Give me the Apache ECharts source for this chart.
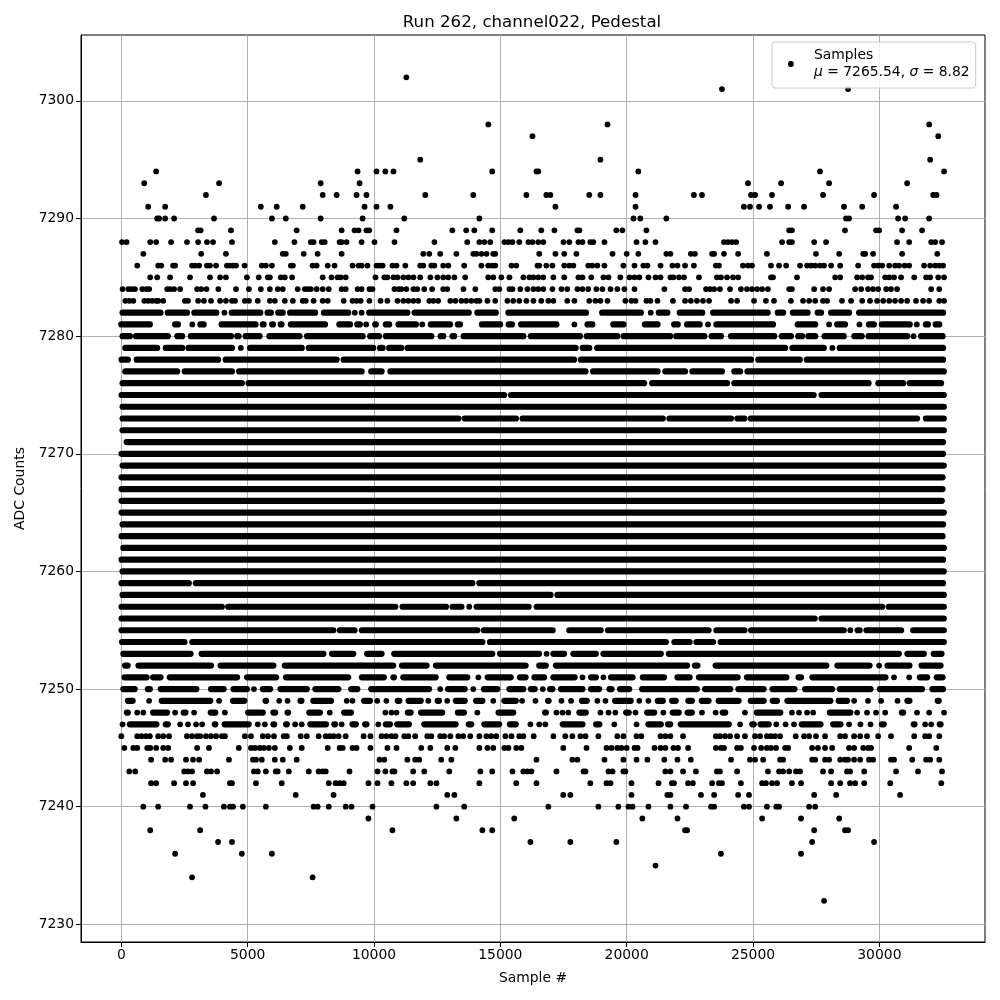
<!DOCTYPE html>
<html>
<head>
<meta charset="utf-8">
<title>Run 262, channel022, Pedestal</title>
<script src="https://cdn.jsdelivr.net/npm/echarts@6/dist/echarts.min.js"></script>
<style>
  html, body { margin: 0; padding: 0; background: #fff; }
  #chart { width: 1000px; height: 1000px; }
</style>
</head>
<body>
<div id="chart"></div>
<script>
const xTicks = [0, 5000, 10000, 15000, 20000, 25000, 30000]
const yTicks = [7230, 7240, 7250, 7260, 7270, 7280, 7290, 7300]

// single samples, one list per ADC count
const adc7302 = [11280]
const adc7301 = [23770, 28760]
const adc7298 = [14525, 19240, 31970]
const adc7297 = [16270, 32330]
const adc7295 = [11830, 18960, 32010]
const adc7294 = [1380, 9350, 10100, 10450, 10770, 14680, 16430, 16500, 20460, 27650, 32560]
const adc7293 = [907, 3870, 7890, 9430, 24800, 26110, 28010, 31100]
const adc7292 = [3350, 7970, 8520, 9310, 9700, 12030, 13930, 16030, 16820, 16980, 18520, 18960, 20350, 22660, 22980, 24920, 25080, 25750, 27770, 29790, 32130, 32260]
const adc7291 = [1065, 1735, 5520, 6150, 7180, 9625, 10100, 10650, 17180, 20350, 24640, 24880, 25240, 25670, 26390, 27020, 28600, 29320, 30660]
const adc7290 = [1420, 1500, 1735, 2090, 3670, 5960, 6510, 7890, 9550, 11200, 14170, 20270, 20540, 21570, 28680, 28800, 30740, 31020, 31970]
const adc7289 = [3040, 3140, 4340, 6940, 8720, 9230, 9390, 9700, 9810, 10890, 13100, 13650, 13970, 14680, 15790, 16620, 17140, 18050, 18130, 19590, 19830, 20780, 26430, 26540, 28640, 29870, 29990, 30900, 31690]
const adc7288 = [30, 210, 1145, 1380, 1970, 2600, 3040, 3390, 3630, 4380, 6075, 6850, 7500, 7610, 7930, 8050, 8640, 8720, 8915, 9510, 10020, 10810, 12390, 13690, 14170, 14370, 14600, 15160, 15320, 15480, 15750, 16110, 16270, 16500, 16700, 17500, 17730, 18090, 18250, 18560, 18680, 19120, 20390, 20740, 21140, 23850, 24010, 24170, 24330, 26150, 26430, 26540, 27420, 27890, 30700, 31180, 32050, 32210, 32480]
const adc7287 = [870, 3160, 4140, 6390, 6510, 7220, 7770, 8720, 11950, 12190, 12620, 13260, 13930, 14050, 14250, 14450, 14720, 14800, 16540, 17180, 17530, 18010, 19440, 20000, 20460, 21570, 21730, 22540, 22700, 23380, 23460, 23850, 24410, 25550, 27490, 28410, 29360, 29440, 29750, 30900, 32290]
const adc7286 = [630, 1460, 1580, 2050, 2130, 2800, 2920, 3080, 3390, 3510, 3750, 4180, 4300, 4420, 4540, 4880, 5560, 5720, 5960, 6710, 6790, 7570, 7730, 8170, 8440, 9150, 9390, 9510, 9740, 10100, 10220, 10340, 10730, 10890, 11240, 11830, 11950, 12270, 12390, 12740, 12940, 13570, 14250, 14520, 14680, 14800, 15440, 15630, 16470, 16540, 16820, 17060, 17530, 17730, 17890, 18480, 18640, 18840, 19120, 19870, 20310, 20660, 20820, 21340, 21810, 22010, 22310, 22660, 23530, 23650, 24600, 24800, 24960, 25710, 26030, 26310, 26860, 27140, 27300, 27460, 27650, 27810, 28090, 28450, 29160, 29790, 29950, 30110, 30390, 30620, 30780, 31000, 31180, 31770, 32010, 32210, 32370, 32520]
const adc7285 = [1145, 1420, 1930, 2720, 3510, 3910, 4140, 4970, 5440, 5800, 5880, 6310, 6470, 6760, 7970, 8320, 8560, 8680, 8880, 10060, 10410, 10530, 10770, 10930, 11160, 11360, 11560, 11830, 12230, 12510, 12740, 12940, 13180, 13610, 14520, 14720, 15040, 15360, 15910, 16150, 16310, 16500, 16700, 17100, 17530, 18090, 18250, 18600, 19080, 19280, 19750, 20110, 20310, 20500, 20860, 21140, 21340, 21730, 21850, 22070, 22270, 22860, 23570, 23730, 23970, 24210, 24410, 25710, 25790, 26740, 28250, 28450, 29120, 29320, 29550, 29670, 30230, 30390, 30580, 30860, 31380, 31850, 32010, 32330, 32560]
const adc7284 = [50, 280, 410, 540, 830, 990, 1105, 1815, 1930, 2090, 2330, 3000, 3160, 3370, 3840, 4540, 5050, 5520, 5880, 6190, 6390, 6980, 7260, 7380, 7500, 7730, 7970, 8210, 8720, 8880, 9350, 9510, 9820, 9940, 10810, 10970, 11080, 11280, 11560, 11710, 11990, 12300, 12740, 12900, 13540, 14010, 14800, 14960, 15360, 15480, 15790, 16070, 16310, 16500, 16700, 17060, 17420, 17650, 18050, 18250, 18480, 18800, 19040, 19360, 19630, 19910, 20310, 21490, 22310, 22470, 23140, 23300, 23460, 23690, 24090, 24520, 24760, 24960, 25160, 25360, 25590, 26430, 26540, 27420, 27770, 28010, 29040, 29280, 29550, 29750, 29950, 30270, 30460, 30700, 32050, 32370]
const adc7283 = [160, 315, 475, 910, 1065, 1220, 1380, 1460, 1660, 2520, 2640, 3040, 3270, 3550, 3910, 4140, 4380, 4500, 4890, 5050, 5400, 5880, 6075, 6470, 6790, 7180, 7300, 7610, 7970, 8170, 8800, 9150, 9310, 9470, 9820, 10260, 10530, 10930, 11160, 11360, 11560, 11750, 12190, 12350, 12540, 13020, 13220, 13460, 13650, 13850, 14050, 14170, 14490, 14800, 15280, 15510, 15750, 16030, 16310, 16620, 16900, 17100, 17650, 17930, 18520, 18760, 18960, 19240, 19950, 20190, 20350, 20780, 20940, 21220, 21830, 22310, 22540, 22780, 23020, 23260, 24130, 24370, 25040, 25510, 25830, 26500, 26980, 27220, 27460, 27770, 27930, 28520, 28880, 29320, 29630, 29910, 30150, 30390, 30620, 30860, 31100, 31450, 31730, 31970, 32370, 32560]

const adc7246 = [0, 630, 800, 970, 1130, 1460, 1660, 1890, 2600, 2800, 3000, 3120, 3350, 3550, 3750, 3980, 4100, 4890, 5130, 5600, 5800, 6040, 6430, 6550, 7100, 7340, 7810, 8090, 8250, 8400, 8600, 8880, 9590, 9860, 10300, 10490, 10690, 10850, 11200, 11360, 11630, 12110, 12270, 12620, 12780, 13020, 13340, 13530, 13810, 14170, 14450, 14640, 14840, 15200, 15440, 15750, 15910, 16320, 17100, 17570, 17850, 18170, 18370, 18880, 19630, 19870, 20390, 20580, 21340, 21530, 21730, 22230, 23530, 23690, 23890, 24090, 24370, 24680, 25080, 25280, 25550, 25710, 25870, 26070, 26690, 27020, 27220, 27490, 27850, 28450, 28640, 29000, 29240, 29510, 29950, 30460, 31380, 31810, 31970, 32370]
const adc7245 = [120, 475, 630, 1025, 1145, 1380, 1660, 1855, 3000, 3470, 4650, 5130, 5290, 5480, 5640, 5840, 6075, 6670, 7140, 8170, 8640, 8760, 9150, 9310, 9860, 10530, 10890, 11870, 12230, 12900, 13220, 14170, 14490, 14720, 15160, 15320, 15630, 15830, 17490, 18410, 19200, 19400, 19630, 19790, 20000, 20310, 20430, 21100, 21340, 21530, 21850, 22030, 22430, 23530, 23730, 23850, 24370, 24520, 25040, 25320, 25550, 25710, 25910, 26270, 26390, 27340, 27570, 27850, 28130, 28800, 29000, 29360, 29550, 29670, 31180, 32250]
const adc7244 = [1180, 1735, 1970, 2560, 2840, 3080, 4260, 5210, 5330, 5560, 6075, 6390, 6940, 10220, 10410, 11320, 11630, 11790, 12660, 13060, 16430, 17850, 18050, 19120, 19870, 20390, 20820, 21490, 22010, 22540, 24130, 24880, 25080, 25400, 26070, 26190, 27340, 27460, 27850, 28010, 28450, 28640, 28760, 29000, 29240, 29590, 29750, 30460, 30580, 31300, 31850, 32010, 32370]
const adc7243 = [315, 550, 2490, 2640, 2800, 3390, 3550, 3790, 5250, 5400, 5720, 6110, 6190, 6630, 7420, 7810, 7970, 8090, 9030, 10140, 10450, 10730, 10810, 11550, 11990, 12980, 14210, 14680, 15480, 15910, 16070, 16230, 17220, 18290, 18370, 19280, 19440, 19870, 19950, 21530, 21730, 22230, 22740, 23570, 23690, 24370, 25590, 26030, 26190, 26430, 26700, 26860, 27770, 28090, 28720, 28840, 29400, 30660, 31530, 32480]
const adc7242 = [1180, 1380, 2090, 2560, 2840, 4300, 4380, 5330, 6350, 8210, 8480, 8640, 8800, 9780, 10140, 10690, 11280, 11550, 12230, 12470, 14170, 15630, 16430, 18560, 19200, 19360, 20190, 21260, 21790, 21870, 22430, 22620, 23380, 23650, 23770, 24520, 25360, 25510, 25750, 25950, 26540, 26900, 28090, 28450, 28840, 29040, 29400, 30430, 32450]
const adc7241 = [3230, 6900, 8400, 12900, 13180, 17490, 17770, 20190, 21610, 21730, 22940, 23460, 24410, 24840, 27420, 28290, 30820]
const adc7240 = [870, 1460, 2720, 3330, 4060, 4300, 4420, 4810, 5720, 7610, 7770, 8210, 8880, 9110, 9940, 12470, 13570, 16900, 18880, 19670, 20070, 20230, 20860, 21730, 22350, 23340, 23460, 24640, 24840, 25550, 25920, 26030, 27220, 27460]
const adc7239 = [9780, 13260, 15550, 20620, 22010, 25360, 26900, 28410]
const adc7238 = [1145, 3120, 10730, 14290, 14680, 22310, 22390, 27420, 28640, 28760]
const adc7237 = [3830, 4380, 16190, 17770, 19590, 27340, 29790]
const adc7236 = [2130, 4770, 5960, 23730, 26900]
const adc7235 = [21140]
const adc7234 = [2800, 7570]
const adc7232 = [27810]

// stretches where the samples overlap into a solid bar: [first, last]
const run7282 = [[50, 1550], [1840, 2600], [2890, 3760], [4080, 4080], [4370, 5500], [5790, 5920], [6210, 6390], [6680, 7670], [8020, 8980], [9240, 9240], [9510, 9510], [9810, 11320], [11610, 13750], [14090, 14820], [15320, 18390], [19030, 20560], [20950, 20950], [21270, 21610], [22100, 22990], [23420, 25580], [25980, 26190], [26580, 27160], [27560, 27690], [28090, 28800], [29200, 32520]]
const run7281 = [[0, 1130], [2130, 2240], [2810, 2810], [3130, 3260], [3970, 5310], [5600, 5630], [5970, 6000], [6310, 6340], [6710, 8060], [8630, 9050], [9340, 9440], [9690, 9690], [10050, 10070], [10470, 10600], [10970, 11660], [11910, 11910], [12250, 13010], [13320, 13400], [14270, 14990], [15330, 15460], [15820, 17220], [17930, 17930], [18450, 18640], [19470, 19870], [20720, 21220], [21880, 22020], [22390, 22890], [23220, 23220], [23550, 25790], [26770, 27460], [28010, 28010], [28330, 28640], [29210, 29210], [29590, 29780], [30100, 31200], [31480, 31480], [31840, 31920], [32230, 32370]]
const run7280 = [[50, 340], [580, 1840], [2220, 2410], [2750, 4340], [4590, 4640], [4920, 5470], [5860, 7050], [7350, 9550], [9850, 10200], [10470, 12270], [12640, 12740], [13110, 13170], [13550, 15910], [16210, 18150], [18420, 19630], [19880, 21720], [21960, 23070], [23360, 23730], [24130, 25840], [26140, 26500], [26790, 26940], [27190, 27460], [27830, 28590], [29010, 29300], [29570, 31100], [31350, 31350], [31650, 32500]]
const run7279 = [[160, 1420], [1760, 2410], [2660, 4380], [4730, 4730], [5100, 7140], [7420, 9970], [10240, 10340], [10600, 11080], [11330, 17980], [18260, 18520], [18830, 26270], [26560, 27800], [28140, 28140], [28430, 32520]]
const run7278 = [[10, 260], [610, 3830], [4130, 8520], [8800, 17920], [18190, 24920], [25210, 26850], [27130, 32520]]
const run7277 = [[160, 2210], [2510, 4380], [4660, 9510], [9890, 10300], [10650, 18370], [18670, 21220], [21530, 22310], [22600, 23770], [24260, 24490], [24780, 32550]]
const run7276 = [[50, 4770], [5040, 20690], [21010, 23970], [24260, 29570], [29960, 30940], [31200, 32440]]
const run7275 = [[10, 15150], [15420, 27400], [27710, 32550]]
const run7274 = [[50, 32550]]
const run7273 = [[50, 13340], [13590, 15620], [15880, 21430], [21690, 24130], [24380, 24660], [24910, 31490], [31840, 32550]]
const run7272 = [[50, 32550]]
const run7271 = [[210, 32520]]
const run7270 = [[10, 32520]]
const run7269 = [[50, 32550]]
const run7268 = [[10, 32500]]
const run7267 = [[10, 32500]]
const run7266 = [[10, 32470]]
const run7265 = [[10, 32550]]
const run7264 = [[50, 32520]]
const run7263 = [[10, 32500]]
const run7262 = [[80, 32550]]
const run7261 = [[10, 32520]]
const run7260 = [[50, 32550]]
const run7259 = [[10, 2670], [2950, 13890], [14170, 32520]]
const run7258 = [[50, 16990], [17260, 32550]]
const run7257 = [[10, 3980], [4230, 10840], [11130, 12850], [13110, 13460], [13770, 13770], [14060, 16120], [16440, 30110], [30370, 32550]]
const run7256 = [[10, 27440], [27710, 32550]]
const run7255 = [[10, 8390], [8650, 9230], [9520, 14090], [14350, 17070], [17730, 18970], [19260, 23240], [23550, 24660], [24920, 28590], [28850, 28850], [29140, 29220], [29490, 30860], [31340, 32550]]
const run7254 = [[30, 2500], [2810, 14290], [14590, 21550], [21890, 22490], [22760, 23420], [23720, 32550]]
const run7253 = [[80, 2740], [3180, 8000], [8340, 9180], [9730, 10300], [10800, 14680], [14990, 16530], [16830, 16830], [17100, 17520], [17890, 18780], [19080, 21350], [21670, 30770], [31110, 31760], [32150, 32460]]
const run7252 = [[150, 250], [680, 3550], [3930, 6020], [6470, 10760], [11110, 12080], [12450, 16000], [16540, 16800], [17200, 22390], [22700, 22800], [23520, 27900], [28340, 29610], [29990, 29990], [30320, 31190], [31670, 32420]]
const run7251 = [[130, 1000], [1260, 1550], [1920, 4580], [4980, 6130], [6520, 8980], [9520, 10390], [10770, 10790], [11160, 12440], [12980, 13690], [14130, 14130], [14500, 15410], [15780, 16000], [16350, 16730], [17100, 17940], [18250, 18250], [18590, 18780], [19080, 19080], [19380, 20230], [20640, 21480], [22010, 22490], [22860, 24390], [24760, 26320], [26800, 26900], [27350, 30240], [30580, 30580], [31180, 31180], [31600, 31890], [32270, 32500]]
const run7250 = [[80, 530], [1050, 1130], [1560, 2970], [3550, 4050], [4440, 4970], [5250, 5250], [5600, 5890], [6300, 7340], [7680, 8590], [9100, 9340], [9890, 12180], [12620, 12620], [12930, 13590], [13930, 13930], [14350, 14880], [15360, 15910], [16210, 16360], [16680, 16680], [16970, 17060], [17400, 18250], [18590, 18910], [19320, 19400], [19740, 20100], [20610, 22780], [23100, 24100], [24420, 25420], [25770, 26640], [27060, 28130], [28430, 29650], [30020, 31690], [32100, 32520]]
const run7249 = [[260, 450], [1100, 1100], [1600, 3520], [3870, 3870], [4420, 4870], [5710, 5730], [6250, 6250], [6580, 6580], [7090, 7130], [7600, 8300], [8920, 8920], [9150, 9150], [9610, 9840], [10130, 10130], [10490, 10490], [10940, 11000], [11370, 11850], [12150, 12150], [12520, 12570], [12900, 12900], [13240, 13590], [14040, 14290], [14720, 14720], [15160, 15610], [15860, 15860], [16390, 16390], [16890, 16910], [17420, 17420], [17800, 17800], [18230, 18420], [18840, 18840], [19160, 19160], [19540, 20160], [20500, 20500], [20860, 20860], [21230, 21430], [21800, 21940], [22440, 22580], [22970, 23240], [23640, 24430], [24910, 25420], [25780, 25950], [26360, 28060], [28390, 28720], [29000, 29000], [29550, 29550], [30070, 30070], [30720, 30720], [31110, 31190], [32310, 32350]]
const run7248 = [[220, 260], [630, 630], [870, 870], [1260, 1810], [2130, 2130], [2470, 2540], [2880, 2880], [3540, 3720], [4100, 4100], [5020, 5600], [6020, 6090], [6580, 6600], [7440, 7860], [8250, 8250], [8820, 9090], [10450, 10450], [10690, 10690], [10890, 10890], [11340, 11450], [11860, 12700], [13320, 13560], [14090, 14090], [14930, 15510], [16770, 16800], [17220, 17220], [17460, 17460], [17690, 17690], [18130, 18380], [18960, 18960], [19280, 19280], [19550, 19550], [19980, 20080], [20350, 20350], [20810, 21090], [21450, 21450], [21820, 22060], [22410, 22580], [22980, 22980], [23520, 23520], [23800, 23900], [24680, 24680], [25150, 26080], [26540, 26540], [26820, 26820], [27140, 27140], [27380, 27380], [28040, 28850], [29120, 29120], [29510, 29510], [29870, 29870], [30230, 30230], [30890, 30940], [31490, 31490], [31970, 31970], [32560, 32560]]
const run7247 = [[50, 50], [340, 1390], [1760, 1840], [2330, 2330], [2640, 2640], [2960, 2960], [3200, 3200], [3700, 3720], [4090, 5040], [5400, 5400], [5680, 5680], [6020, 6050], [6520, 6550], [6880, 6880], [7140, 7140], [7480, 8100], [8430, 8460], [8720, 8720], [9150, 9280], [9650, 9700], [10170, 10170], [10470, 10630], [10920, 11380], [11990, 13230], [13750, 13850], [14370, 14950], [15380, 15610], [16190, 16190], [16540, 16540], [16780, 16780], [17470, 18250], [18790, 18920], [19510, 19510], [20390, 20390], [20860, 21350], [21640, 21720], [22140, 24040], [24490, 24490], [24970, 25030], [25300, 25620], [25920, 25920], [26290, 26290], [26620, 26620], [26930, 27670], [28170, 28460], [28800, 28800], [29250, 29250], [29650, 29650], [30100, 30170], [31360, 31390], [31810, 31810], [32050, 32050], [32390, 32420]]

const dotRows = [
  [7302, adc7302], [7301, adc7301], [7298, adc7298], [7297, adc7297], [7295, adc7295],
  [7294, adc7294], [7293, adc7293], [7292, adc7292], [7291, adc7291], [7290, adc7290],
  [7289, adc7289], [7288, adc7288], [7287, adc7287], [7286, adc7286], [7285, adc7285],
  [7284, adc7284], [7283, adc7283], [7246, adc7246], [7245, adc7245], [7244, adc7244],
  [7243, adc7243], [7242, adc7242], [7241, adc7241], [7240, adc7240], [7239, adc7239],
  [7238, adc7238], [7237, adc7237], [7236, adc7236], [7235, adc7235], [7234, adc7234],
  [7232, adc7232]
]
const runRows = [
  [7282, run7282], [7281, run7281], [7280, run7280], [7279, run7279], [7278, run7278],
  [7277, run7277], [7276, run7276], [7275, run7275], [7274, run7274], [7273, run7273],
  [7272, run7272], [7271, run7271], [7270, run7270], [7269, run7269], [7268, run7268],
  [7267, run7267], [7266, run7266], [7265, run7265], [7264, run7264], [7263, run7263],
  [7262, run7262], [7261, run7261], [7260, run7260], [7259, run7259], [7258, run7258],
  [7257, run7257], [7256, run7256], [7255, run7255], [7254, run7254], [7253, run7253],
  [7252, run7252], [7251, run7251], [7250, run7250], [7249, run7249], [7248, run7248],
  [7247, run7247]
]

const dots = []
const bars = []
dotRows.forEach(([adc, samples]) => {
  samples.forEach(s => dots.push([s, adc]))
})
runRows.forEach(([adc, runs]) => {
  runs.forEach(([a, b]) => {
    if (a === b) dots.push([a, adc])
    else bars.push([a, b, adc])
  })
})

const dotSize = 5.8
const barWidth = 6.2
const chart = echarts.init(document.getElementById('chart'), null, { renderer: 'canvas' })

function renderBar(params, api) {
  const p0 = api.coord([api.value(0), api.value(2)])
  const p1 = api.coord([api.value(1), api.value(2)])
  return {
    type: 'line',
    shape: { x1: p0[0], y1: p0[1], x2: p1[0], y2: p1[1] },
    style: { stroke: '#000', lineWidth: barWidth, lineCap: 'round' }
  }
}

chart.setOption({
  animation: false,
  textStyle: { fontFamily: 'DejaVu Sans', color: '#000' },
  title: {
    text: 'Run 262, channel022, Pedestal',
    left: 527,
    top: 9,
    textAlign: 'center',
    textStyle: { fontFamily: 'DejaVu Sans', fontSize: 16.67, fontWeight: 'normal', color: '#000' }
  },
  legend: {
    data: ['Samples'],
    left: 772,
    top: 42,
    padding: [5, 6, 7, 16],
    itemWidth: 36,
    itemHeight: dotSize,
    icon: 'circle',
    backgroundColor: 'rgba(255,255,255,0.8)',
    borderColor: '#ccc',
    borderWidth: 1,
    borderRadius: 3,
    selectedMode: false,
    formatter: () => 'Samples\n{i|μ} = 7265.54, {i|σ} = 8.82',
    textStyle: {
      fontFamily: 'DejaVu Sans',
      fontSize: 13.9,
      color: '#000',
      lineHeight: 17,
      rich: {
        i: { fontFamily: 'DejaVu Sans', fontStyle: 'italic', fontSize: 13.9, color: '#000' }
      }
    }
  },
  grid: {
    left: 81,
    top: 35,
    width: 904,
    height: 907,
    show: true,
    borderColor: '#000',
    borderWidth: 1,
    backgroundColor: '#fff',
    containLabel: false
  },
  xAxis: {
    type: 'value',
    min: -1595,
    max: 34180,
    name: 'Sample #',
    nameLocation: 'middle',
    nameGap: 29,
    nameTextStyle: { fontFamily: 'DejaVu Sans', fontSize: 13.9, color: '#000' },
    axisLine: { show: true, onZero: false, lineStyle: { color: '#000', width: 1 } },
    axisTick: { show: true, length: 5, customValues: xTicks, lineStyle: { color: '#000', width: 1 } },
    axisLabel: { margin: 6, fontSize: 13.9, color: '#000', fontFamily: 'DejaVu Sans', customValues: xTicks, formatter: v => String(v) },
    splitLine: { show: true, lineStyle: { color: '#b0b0b0', width: 1 } }
  },
  yAxis: {
    type: 'value',
    min: 7228.5,
    max: 7305.6,
    name: 'ADC Counts',
    nameLocation: 'middle',
    nameGap: 52,
    nameTextStyle: { fontFamily: 'DejaVu Sans', fontSize: 13.9, color: '#000' },
    axisLine: { show: true, onZero: false, lineStyle: { color: '#000', width: 1 } },
    axisTick: { show: true, length: 5, customValues: yTicks, lineStyle: { color: '#000', width: 1 } },
    axisLabel: { margin: 7, fontSize: 13.9, color: '#000', fontFamily: 'DejaVu Sans', customValues: yTicks, formatter: v => String(v) },
    splitLine: { show: true, lineStyle: { color: '#b0b0b0', width: 1 } }
  },
  series: [
    {
      name: 'Samples bars',
      type: 'custom',
      renderItem: renderBar,
      encode: { x: [0, 1], y: 2 },
      data: bars,
      silent: true
    },
    {
      name: 'Samples',
      type: 'scatter',
      symbol: 'circle',
      symbolSize: dotSize,
      itemStyle: { color: '#000', opacity: 1 },
      data: dots,
      silent: true
    }
  ]
})
</script>
</body>
</html>
